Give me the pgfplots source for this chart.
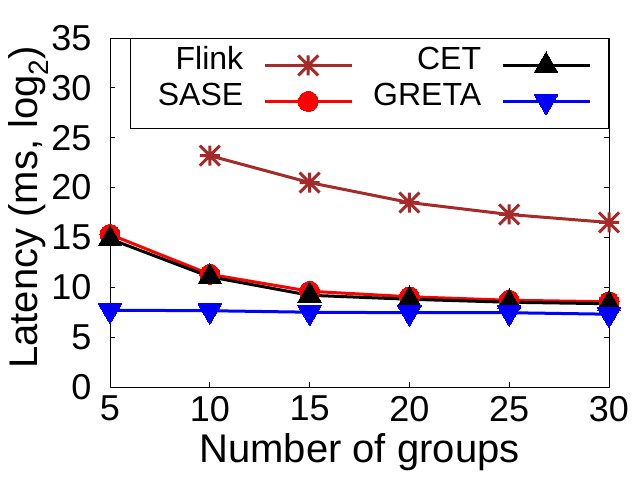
\documentclass[border=0pt]{standalone}
\usepackage{pgfplots}
\pgfplotsset{compat=1.18}
\usepackage{fontspec}
\setmainfont{Liberation Sans}
\pgfdeclareplotmark{gpstar}{%
  \pgfpathmoveto{\pgfqpoint{-\pgfplotmarksize}{0pt}}%
  \pgfpathlineto{\pgfqpoint{\pgfplotmarksize}{0pt}}%
  \pgfpathmoveto{\pgfqpoint{0pt}{-\pgfplotmarksize}}%
  \pgfpathlineto{\pgfqpoint{0pt}{\pgfplotmarksize}}%
  \pgfpathmoveto{\pgfqpoint{-\pgfplotmarksize}{-\pgfplotmarksize}}%
  \pgfpathlineto{\pgfqpoint{\pgfplotmarksize}{\pgfplotmarksize}}%
  \pgfpathmoveto{\pgfqpoint{-\pgfplotmarksize}{\pgfplotmarksize}}%
  \pgfpathlineto{\pgfqpoint{\pgfplotmarksize}{-\pgfplotmarksize}}%
  \pgfusepathqstroke}
\definecolor{flink}{RGB}{165,42,42}
\begin{document}
\begin{tikzpicture}
\useasboundingbox (0,0) rectangle (640pt,480pt);
\begin{axis}[
  at={(110pt,93pt)}, anchor=south west,
  scale only axis, width=499pt, height=349pt,
  xmin=5, xmax=30, ymin=0, ymax=35,
  xtick={5,10,15,20,25,30}, ytick={0,5,10,15,20,25,30,35},
  tick pos=both, tick align=inside, major tick length=5pt,
  axis line style={line width=0.8pt}, every tick/.style={line width=0.8pt, black},
  /pgf/number format/assume math mode=true,
  ticklabel style={font=\fontsize{36}{40}\selectfont},
  xticklabel style={anchor=north, inner sep=0pt, yshift=-9pt},
  yticklabel style={anchor=east, inner sep=0pt, xshift=-18.5pt},
  xlabel={Number of groups}, ylabel={Latency (ms, log\textsubscript{2})},
  label style={font=\fontsize{40}{44}\selectfont},
  x label style={at={(axis description cs:0.5,-0.2149)}, anchor=base, inner sep=0pt},
  y label style={at={(axis description cs:-0.1443,0.515)}, anchor=base, rotate=0, inner sep=0pt},
  legend columns=2, transpose legend,
  legend plot pos=right,
  legend style={at={(1,1)}, anchor=north east, draw=black, line width=0.8pt,
    font=\fontsize{32}{38}\selectfont,
    inner xsep=17.5pt, inner ysep=13.5pt, column sep=10pt, row sep=16pt,
    nodes={inner xsep=10pt, inner ysep=0pt, text height=8pt, text depth=0pt}},
  legend cell align=right,
  legend image code/.code={\draw[mark repeat=2,mark phase=2,#1] plot coordinates {(0pt,0pt) (43.5pt,0pt) (87pt,0pt)};},
  every axis plot/.append style={line width=3pt},
]
\addplot[color=flink, mark=gpstar, mark size=10pt, mark options={line width=3pt}]
  coordinates {(10,23.2) (15,20.5) (20,18.5) (25,17.3) (30,16.5)};
\addlegendentry{Flink}
\addplot[color=red, mark=*, mark size=10pt, mark options={line width=0pt}]
  coordinates {(5,15.3) (10,11.3) (15,9.6) (20,9.05) (25,8.7) (30,8.55)};
\addlegendentry{SASE}
\addplot[color=black, mark=triangle*, mark size=13.5pt, mark options={line width=0pt}]
  coordinates {(5,14.85) (10,11.05) (15,9.2) (20,8.8) (25,8.5) (30,8.35)};
\addlegendentry{CET}
\addplot[color=blue, mark=triangle*, mark size=13.5pt, mark options={line width=0pt, rotate=180}]
  coordinates {(5,7.7) (10,7.65) (15,7.5) (20,7.45) (25,7.45) (30,7.3)};
\addlegendentry{GRETA}
\end{axis}
\end{tikzpicture}
\end{document}
